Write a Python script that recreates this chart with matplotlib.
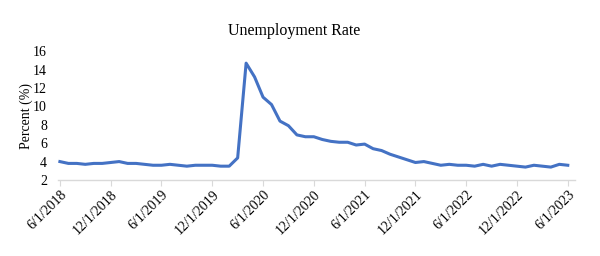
import matplotlib.pyplot as plt

plt.rcParams['font.family'] = ['Liberation Serif', 'DejaVu Serif']

rate = [4.0, 3.8, 3.8, 3.7, 3.8, 3.8, 3.9,
        4.0, 3.8, 3.8, 3.7, 3.6, 3.6, 3.7, 3.6, 3.5, 3.6, 3.6, 3.6,
        3.5, 3.5, 4.4, 14.7, 13.2, 11.0, 10.2, 8.4, 7.9, 6.9, 6.7, 6.7,
        6.4, 6.2, 6.1, 6.1, 5.8, 5.9, 5.4, 5.2, 4.8, 4.5, 4.2, 3.9,
        4.0, 3.8, 3.6, 3.7, 3.6, 3.6, 3.5, 3.7, 3.5, 3.7, 3.6, 3.5,
        3.4, 3.6, 3.5, 3.4, 3.7, 3.6]
tick_labels = ["6/1/2018", "12/1/2018", "6/1/2019", "12/1/2019", "6/1/2020",
               "12/1/2020", "6/1/2021", "12/1/2021", "6/1/2022", "12/1/2022",
               "6/1/2023"]

x = list(range(len(rate)))

fig = plt.figure(figsize=(6, 2.56), dpi=100)
ax = fig.add_axes([0.097, 0.297, 0.862, 0.503])
ax.plot(x, rate, color='#4472C4', lw=2.2, solid_joinstyle='round')

ax.set_xlim(-0.2, 60.9)
ax.set_ylim(2, 16)
ax.set_yticks(range(2, 17, 2))
ax.set_xticks(range(0, 61, 6))
ax.set_xticklabels(tick_labels, rotation=45, ha='right', rotation_mode='anchor')
ax.tick_params(axis='y', length=0, labelsize=10, pad=8)
ax.tick_params(axis='x', length=4, color='#d9d9d9', labelsize=10, pad=2)

for s in ['top', 'right', 'left']:
    ax.spines[s].set_visible(False)
ax.spines['bottom'].set_color('#d9d9d9')
ax.spines['bottom'].set_linewidth(1)

ax.set_ylabel("Percent (%)", fontsize=10, labelpad=0)
fig.text(0.49, 0.88, "Unemployment Rate", ha='center', va='center', fontsize=11.5)

fig.savefig("out.png", dpi=100)
